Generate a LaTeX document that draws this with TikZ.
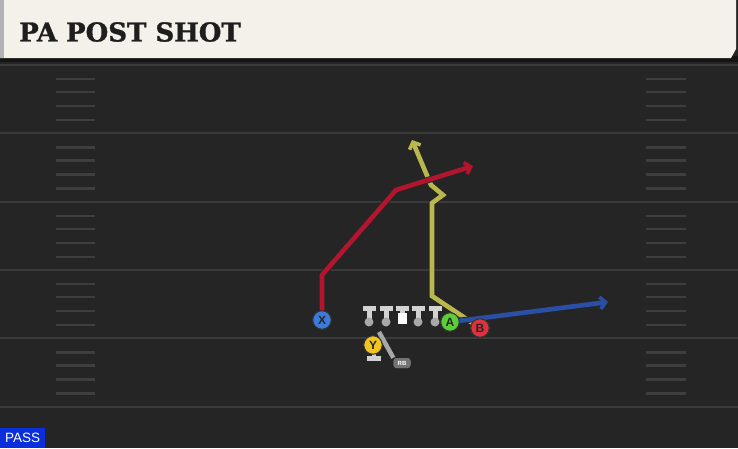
\documentclass[tikz,border=0pt]{standalone}
\usepackage{fontspec}
\setmainfont{Liberation Sans}
\newfontfamily\titlefont[FakeBold=1.2]{DejaVu Serif}
\usetikzlibrary{arrows.meta,calc}
\definecolor{fieldbg}{HTML}{252525}
\definecolor{fieldline}{HTML}{3A3A3A}
\definecolor{hashc}{HTML}{3E3E3E}
\definecolor{titlebg}{HTML}{F4F1EA}
\definecolor{titletxt}{HTML}{1E1E1E}
\definecolor{redroute}{HTML}{B3142E}
\definecolor{yelroute}{HTML}{B9B84C}
\definecolor{bluroute}{HTML}{2A4FA6}
\definecolor{xblue}{HTML}{3A7BDB}
\definecolor{agreen}{HTML}{5CCF38}
\definecolor{bred}{HTML}{E2303C}
\definecolor{yyel}{HTML}{F2C420}
\definecolor{linec}{HTML}{D2D2D2}
\definecolor{passblue}{HTML}{0B2EDD}
\tikzset{
  player/.style={circle, minimum size=18.5pt, inner sep=0pt, draw=black!80, line width=1pt,
     font=\bfseries\fontsize{12}{12}\selectfont, text=black!85},
  routeout/.style={line width=6.4pt, black!85, line join=miter},
  routein/.style={line width=4.6pt, line join=miter},
  tip/.style={-{Straight Barb[length=5.5pt,width=12pt,line width=3.6pt]}},
  yardline/.style={fieldline, line width=2.8pt},
  hashmark/.style={hashc, line width=2.2pt},
  lman/.pic={
    \fill[linec] (-6.5,-16) rectangle (6.5,-11.5);
    \fill[linec] (-2.5,-11.5) rectangle (2.5,-3);
    \fill[linec!80!black] (0,0) circle (4.5);
  },
}
\begin{document}
\begin{tikzpicture}[x=1pt,y=-1pt]
\useasboundingbox (0,0) rectangle (738,448);
\fill[fieldbg] (0,0) rectangle (738,448);
% title bar
\fill[black!92] (0,56) rectangle (738,62);
\fill[titlebg] (0,0) -- (736,0) -- (736,49) -- (731,58) -- (0,58) -- cycle;
\fill[black!30] (0,0) rectangle (4,58);
\node[anchor=west, inner sep=0pt, text=titletxt] (title) at (19,32)
  {\titlefont\bfseries\fontsize{26}{26}\selectfont PA POST SHOT};
% yard lines
\foreach \y in {65,133,202,270,338,407} {\draw[yardline] (0,\y) -- (738,\y);}
% hash marks
\foreach \b in {65,133.5,202,270,338.5} {
  \foreach \o in {14,27,41,55} {
    \draw[hashmark] (56,\b+\o) -- (95,\b+\o);
    \draw[hashmark] (646,\b+\o) -- (686,\b+\o);
  }
}
% players
\node[player, fill=xblue] (X) at (322,320) {X};
\node[player, fill=agreen] (A) at (450,322) {A};
\node[player, fill=bred] (B) at (480,328) {B};
% routes
\coordinate (r1) at (322,275);
\coordinate (r2) at (396,190);
\coordinate (r3) at (473,166);
\coordinate (y1) at (432,296);
\coordinate (y2) at (432,203);
\coordinate (y3) at (443,195);
\coordinate (y4) at (431,185);
\coordinate (y5) at (412,140);
\coordinate (b1) at (608,302);
\draw[routeout] (B.center) -- (y1) -- (y2) -- (y3) -- (y4) -- ($(y4)!0.93!(y5)$);
\draw[routein, yelroute, tip] (B.center) -- (y1) -- (y2) -- (y3) -- (y4) -- (y5);
\draw[routeout] (X.center) -- (r1) -- (r2) -- ($(r2)!0.93!(r3)$);
\draw[routein, redroute, tip] (X.center) -- (r1) -- (r2) -- (r3);
\draw[routeout] (A.center) -- ($(A.center)!0.95!(b1)$);
\draw[routein, bluroute, tip] (A.center) -- (b1);
\node[player, fill=xblue] at (X) {X};
\node[player, fill=agreen] at (A) {A};
\node[player, fill=bred] at (B) {B};
% line
\foreach \x in {369,386,418,435} {\pic at (\x,322) {lman};}
\fill[linec] (395.5,306) rectangle (408.5,310.5);
\fill[linec] (399.5,310.5) rectangle (404.5,313);
\fill[white] (397.5,313) rectangle (406.5,324);
% Y and RB
\coordinate (ys) at (379,332);
\node[fill=black!55, rounded corners=3pt, minimum width=17pt, minimum height=10pt, inner sep=0pt,
  font=\bfseries\fontsize{6}{6}\selectfont, text=white!85] (RB) at (402,363) {RB};
\draw[linec!80!black, line width=4.5pt] (ys) -- (RB.north west);
\node[fill=black!55, rounded corners=3pt, minimum width=17pt, minimum height=10pt, inner sep=0pt,
  font=\bfseries\fontsize{6}{6}\selectfont, text=white!85] at (RB) {RB};
\fill[linec] (366.5,355.5) rectangle (381,360.5);
\fill[linec] (371.5,350) rectangle (375.5,356);
\node[player, fill=yyel] (Y) at (373,345) {Y};
% pass tag
\node[fill=passblue, text=white, anchor=south west, minimum width=45pt, minimum height=20pt,
  inner sep=0pt, font=\fontsize{13.5}{13.5}\selectfont] (pass) at (0,448) {PASS};
\end{tikzpicture}
\end{document}
